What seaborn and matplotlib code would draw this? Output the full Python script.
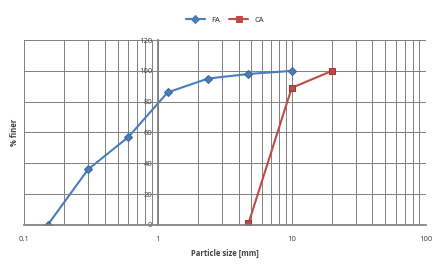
import pandas as pd
import matplotlib.pyplot as plt
import seaborn as sns

# sieve data
fa_size = [0.15, 0.3, 0.6, 1.18, 2.36, 4.75, 10]
fa_finer = [0, 36, 57, 86, 95, 98, 100]
ca_size = [4.75, 10, 20]
ca_finer = [1, 89, 100]

df = pd.concat([
    pd.DataFrame({'size': fa_size, 'finer': fa_finer, 'agg': 'FA'}),
    pd.DataFrame({'size': ca_size, 'finer': ca_finer, 'agg': 'CA'}),
])

sns.set_theme(style='white')
plt.rcParams['font.family'] = ['Open Sans', 'DejaVu Sans']

fig = plt.figure(figsize=(4.32, 2.69), dpi=100)
ax = fig.add_axes([0.056, 0.164, 0.929, 0.687])

sns.lineplot(data=df, x='size', y='finer', hue='agg', style='agg',
             palette={'FA': '#4A7EBB', 'CA': '#BE4B48'},
             markers={'FA': 'D', 'CA': 's'}, dashes=False,
             markersize=4, linewidth=1.5, markeredgecolor=None, ax=ax)
for ln, ec in zip(ax.lines, ['#3C6696', '#9A3A37']):
    ln.set_markeredgecolor(ec)

ax.set_xscale('log')
ax.set_xlim(0.1, 100)
ax.set_ylim(0, 120)
ax.set_yticks(range(0, 121, 20))
ax.set_xticks([0.1, 1, 10, 100])
ax.set_xticklabels(['0.1', '1', '10', '100'])

ax.grid(True, which='both', axis='x', color='#808080', linewidth=0.7)
ax.grid(True, which='major', axis='y', color='#808080', linewidth=0.7)

for s in ['top', 'right']:
    ax.spines[s].set_visible(False)
ax.spines['left'].set_position(('data', 1))
ax.spines['left'].set_color('#808080')
ax.spines['bottom'].set_color('#808080')
ax.tick_params(axis='both', labelsize=5.5, colors='#404040', length=2, pad=2)
ax.tick_params(axis='x', pad=6)

ax.set_xlabel('Particle size [mm]', fontsize=5.5, fontweight='bold', color='#404040', labelpad=4)
ax.set_ylabel('% finer', fontsize=5.5, fontweight='bold', color='#404040')
ax.yaxis.set_label_coords(-0.012, 0.5)

ax.legend(loc='lower center', bbox_to_anchor=(0.5, 1.05), ncol=2, frameon=False,
          fontsize=5.5, handlelength=2.5, columnspacing=1.2, title=None)

fig.savefig('out.png', dpi=100)
